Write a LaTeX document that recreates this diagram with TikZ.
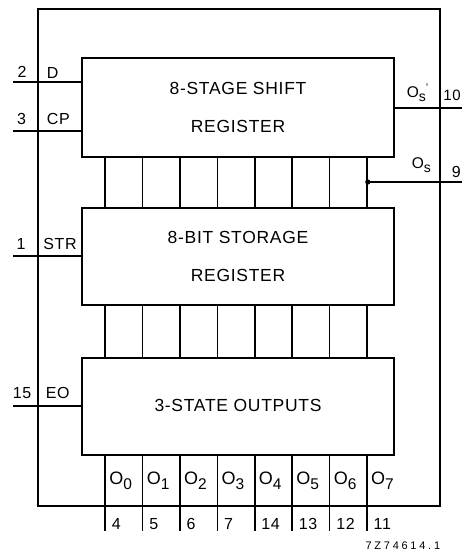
\documentclass[tikz,border=0pt]{standalone}
\usepackage{fontspec}
\setmainfont{Liberation Sans}[LetterSpace=4]
\newfontfamily\codefont{Liberation Sans}[LetterSpace=25]
\newcommand{\olab}[1]{{\fontsize{18}{20}\selectfont O}\raisebox{-5pt}{\fontsize{15.5}{17}\selectfont #1}}
\newcommand{\oslab}{{\fontsize{15.5}{17}\selectfont O}\raisebox{-4pt}{\fontsize{14}{16}\selectfont s}}
\begin{document}
\begin{tikzpicture}[x=1pt,y=-1pt,line width=1.7pt,
  blk/.style={draw,rectangle,minimum width=312pt,inner sep=0pt,
    font=\fontsize{17.5}{20}\selectfont,align=center},
  pin/.style={inner sep=0pt,font=\fontsize{16}{18}\selectfont},
  sig/.style={inner sep=0pt,font=\fontsize{16}{18}\selectfont},
  wire/.style={line width=1.7pt}]
\useasboundingbox (0,0) rectangle (462,553);
% outer package
\node[draw,rectangle,minimum width=402pt,minimum height=497pt,inner sep=0pt] (chip) at (239,257.5) {};
% blocks
\node[blk,minimum height=99pt] (shift) at (238,107.5) {};
\node[blk,minimum height=97pt] (store) at (238,256.5) {};
\node[blk,minimum height=97pt] (outs) at (238,406.5) {};
% block texts
\node[blk,draw=none,minimum width=0pt] (t1) at (238,88) {8-STAGE SHIFT};
\node[blk,draw=none,minimum width=0pt] (t2) at (238,126) {REGISTER};
\node[blk,draw=none,minimum width=0pt] (t3) at (238,237) {8-BIT STORAGE};
\node[blk,draw=none,minimum width=0pt] (t4) at (238,275) {REGISTER};
\node[blk,draw=none,minimum width=0pt] (t5) at (238,405) {3-STATE OUTPUTS};
% input pins
\coordinate (pD) at (13,82);
\coordinate (pCP) at (13,131);
\coordinate (pSTR) at (13,256);
\coordinate (pEO) at (13,406);
\draw[wire] (pD) -- (shift.west |- pD);
\draw[wire] (pCP) -- (shift.west |- pCP);
\draw[wire] (pSTR) -- (store.west |- pSTR);
\draw[wire] (pEO) -- (outs.west |- pEO);
\node[pin] (n2) at (22,72) {2};
\node[sig,anchor=west] (lD) at (46,72.5) {D};
\node[pin] (n3) at (21.5,119) {3};
\node[sig,anchor=west] (lCP) at (46,119) {CP};
\node[pin] (n1) at (21,244) {1};
\node[sig,anchor=west] (lSTR) at (42.5,244) {STR};
\node[pin] (n15) at (22,393) {15};
\node[sig,anchor=west] (lEO) at (45,393) {EO};
% parallel connections
\foreach \i in {0,...,7}{
  \draw[wire] ([xshift={24pt+37.4pt*\i}]shift.south west) -- ([xshift={24pt+37.4pt*\i}]store.north west);
  \draw[wire] ([xshift={24pt+37.4pt*\i}]store.south west) -- ([xshift={24pt+37.4pt*\i}]outs.north west);
  \draw[wire] ([xshift={24pt+37.4pt*\i}]outs.south west) -- ++(0,75) coordinate (o\i);
}
% serial outputs
\coordinate (pQs1) at (462,108);
\coordinate (pQs) at (462,182);
\coordinate (jn) at (367.8,182);
\draw[wire] (shift.east |- pQs1) -- (pQs1);
\draw[wire] (jn) -- (pQs);
\fill (jn) circle (2.6pt);
\node[sig,anchor=west] (lQs1) at (406,93) {\oslab\raisebox{0.7ex}{\fontsize{11}{12}\selectfont'}};
\node[sig,anchor=west] (lQs) at (411,165) {\oslab};
\node[pin,anchor=west,font=\fontsize{15}{17}\selectfont] (n10) at (442.5,95) {10};
\node[pin,anchor=west] (n9) at (451,172) {9};
% output labels
\foreach \i/\p in {0/4,1/5,2/6,3/7,4/14,5/13,6/12,7/11}{
  \node[sig,anchor=west] (lo\i) at ({106+37.4*\i+2.5},481) {\olab{\i}};
  \node[pin,anchor=west] (po\i) at ({106+37.4*\i+5},524) {\p};
}
\node[inner sep=0pt,anchor=east,font=\codefont\fontsize{11}{12}\selectfont] (code) at (441,546) {7Z74614.1};
\end{tikzpicture}
\end{document}
